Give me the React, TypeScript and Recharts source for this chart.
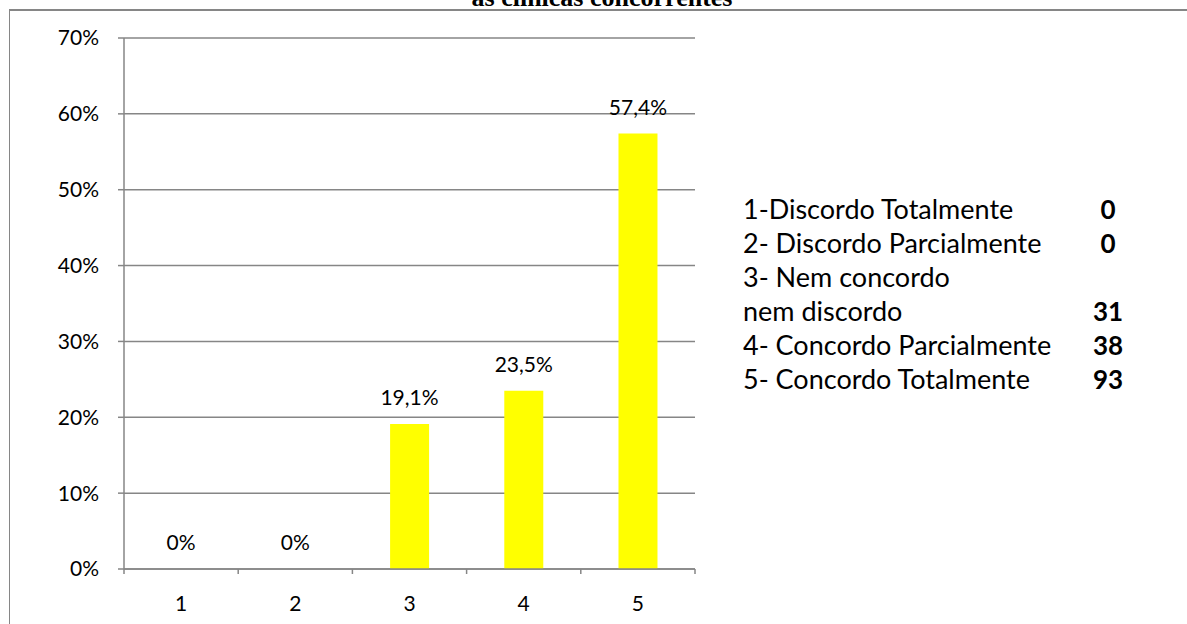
import React from "react";
import { ComposedChart, Bar, Line, XAxis, YAxis, CartesianGrid, LabelList } from "recharts";

const categories = ["1", "2", "3", "4", "5"];
const shares = [0, 0, 0.191, 0.235, 0.574];
const yTicks = [0, 0.1, 0.2, 0.3, 0.4, 0.5, 0.6, 0.7];
const legendLabels = [
  "1-Discordo Totalmente",
  "2- Discordo Parcialmente",
  "3- Nem concordo",
  "nem discordo",
  "4- Concordo Parcialmente",
  "5- Concordo Totalmente",
];
const legendCounts = ["0", "0", "", "31", "38", "93"];
const titleText = "as clínicas concorrentes";

const data = categories.map((c, i) => ({ name: c, value: shares[i] }));

const FONT = "Lato, 'Open Sans', sans-serif";
const GRAY = "#868686";

const pct = (v: number) => {
  const p = Math.round(v * 1000) / 10;
  return (Number.isInteger(p) ? String(p) : p.toFixed(1).replace(".", ",")) + "%";
};

const XTick = (props: any) => {
  const { x, y, payload, index, visibleTicksCount } = props;
  const half = payload && payload.offset ? payload.offset : 57;
  const isLast = index === (visibleTicksCount ?? 5) - 1;
  return (
    <g>
      <line x1={x - half} x2={x - half} y1={y} y2={y + 5} stroke={GRAY} strokeWidth={1.5} />
      {isLast && <line x1={x + half} x2={x + half} y1={y} y2={y + 5} stroke={GRAY} strokeWidth={1.5} />}
      <text x={x} y={y + 42} textAnchor="middle" fontFamily={FONT} fontSize={21} fill="#000">
        {payload.value}
      </text>
    </g>
  );
};

export default function App() {
  return (
    <div style={{ position: "absolute", left: 0, top: 0, width: 1187, height: 624, overflow: "hidden", background: "#fff" }}>
      <div
        style={{
          position: "absolute",
          left: 9,
          top: 9,
          width: 1200,
          height: 700,
          borderLeft: `1.5px solid ${GRAY}`,
          borderTop: `2px solid ${GRAY}`,
        }}
      />
      <div style={{ position: "absolute", left: 0, top: 0 }}>
        <ComposedChart width={700} height={624} data={data} margin={{ top: 38, right: 5, left: 0, bottom: 0 }} barCategoryGap="33%">
          <CartesianGrid vertical={false} stroke={GRAY} strokeWidth={1.5} />
          <XAxis
            dataKey="name"
            height={55}
            stroke={GRAY}
            strokeWidth={1.5}
            tickLine={false}
            tickSize={0}
            tickMargin={0}
            tick={<XTick />}
            interval={0}
          />
          <YAxis
            width={124}
            domain={[0, 0.7]}
            ticks={yTicks}
            tickFormatter={pct}
            stroke={GRAY}
            strokeWidth={1.5}
            tickSize={6}
            tickMargin={19}
            tick={{ fill: "#000", fontSize: 21, fontFamily: FONT }}
            interval={0}
          />
          <Bar dataKey="value" fill="#FFFF00" isAnimationActive={false} />
          <Line
            dataKey="value"
            stroke="none"
            dot={false}
            activeDot={false}
            legendType="none"
            isAnimationActive={false}
          >
            <LabelList
              dataKey="value"
              position="top"
              offset={19}
              formatter={(v: any) => pct(Number(v))}
              style={{ fill: "#000", fontSize: 21, fontFamily: FONT }}
            />
          </Line>
        </ComposedChart>
      </div>
      <svg
        width={1187}
        height={30}
        style={{ position: "absolute", left: 0, top: 0, zIndex: 5, pointerEvents: "none" }}
      >
        <text
          x={602}
          y={6}
          textAnchor="middle"
          fontFamily="'Liberation Serif', 'Times New Roman', serif"
          fontWeight={700}
          fontSize={26}
          fill="#000"
        >
          {titleText}
        </text>
      </svg>
      {legendLabels.map((t, i) => (
        <div
          key={i}
          style={{
            position: "absolute",
            left: 743,
            top: 209 + i * 34 - 17,
            height: 34,
            lineHeight: "34px",
            fontFamily: FONT,
            fontSize: 27,
            color: "#000",
            whiteSpace: "nowrap",
          }}
        >
          {t}
        </div>
      ))}
      {legendCounts.map((t, i) => (
        <div
          key={"c" + i}
          style={{
            position: "absolute",
            left: 1088,
            width: 40,
            textAlign: "center",
            top: 209 + i * 34 - 17,
            height: 34,
            lineHeight: "34px",
            fontFamily: FONT,
            fontSize: 26,
            fontWeight: "bold",
            color: "#000",
          }}
        >
          {t}
        </div>
      ))}
    </div>
  );
}
